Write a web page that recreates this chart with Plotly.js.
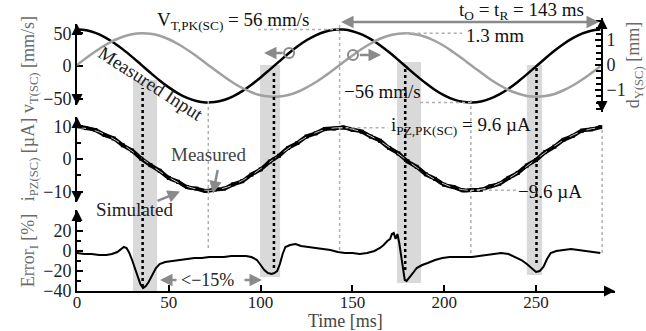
<!DOCTYPE html>
<html>
<head>
<meta charset="utf-8">
<script src="https://cdn.plot.ly/plotly-3.0.1.min.js"></script>
<style>html,body{margin:0;padding:0;background:#fff}#chart{width:646px;height:331px}</style>
</head>
<body>
<div id="chart"></div>
<script>
// ---- data ----
const timeMs = [0,5,10,15,20,25,30,35,40,45,50,55,60,65,70,75,80,85,90,95,100,105,110,115,120,125,130,135,140,145,150,155,160,165,170,175,180,185,190,195,200,205,210,215,220,225,230,235,240,245,250,255,260,265,270,275,280,285];
const velocityMeasured = [56,54.7,50.7,44.3,35.7,25.5,14.0,1.8,-10.4,-22.1,-32.8,-41.9,-49.0,-53.7,-55.9,-55.3,-52.1,-46.4,-38.5,-28.7,-17.5,-5.5,6.7,18.7,29.8,39.4,47.1,52.6,55.5,55.8,53.4,48.4,41.1,31.8,21.0,9.2,-3.1,-15.2,-26.6,-36.7,-45.0,-51.2,-54.9,-56.0,-54.4,-50.1,-43.5,-34.8,-24.4,-12.8,-0.6,11.6,23.3,33.8,42.7,49.6,54.1,55.9];
const displacement = [0,0.28,0.54,0.78,0.98,1.13,1.23,1.27,1.25,1.17,1.03,0.84,0.61,0.36,0.08,-0.19,-0.46,-0.71,-0.92,-1.09,-1.21,-1.26,-1.26,-1.20,-1.08,-0.90,-0.69,-0.44,-0.17,0.11,0.38,0.64,0.86,1.05,1.18,1.25,1.27,1.22,1.12,0.96,0.76,0.51,0.25,-0.03,-0.30,-0.57,-0.80,-1.00,-1.14,-1.24,-1.27,-1.24,-1.16,-1.01,-0.82,-0.59,-0.33,-0.06];
const currentMeasured = [10.1,9.5,8.9,7.4,6.3,4.2,2.6,0.1,-1.9,-3.6,-5.8,-7.0,-8.6,-9.1,-9.8,-9.4,-9.1,-7.8,-6.8,-4.8,-3.2,-0.8,1.0,3.4,4.9,6.9,7.9,9.2,9.4,9.7,9.0,8.4,6.9,5.6,3.4,1.7,-0.7,-2.4,-4.7,-6.1,-7.9,-8.6,-9.6,-9.5,-9.4,-8.4,-7.6,-5.8,-4.3,-2.0,-0.3,2.1,3.8,5.9,7.1,8.7,9.1,9.8];
const currentSimulated = [9.6,9.37,8.69,7.59,6.13,4.37,2.40,0.32,-1.78,-3.80,-5.63,-7.19,-8.40,-9.21,-9.58,-9.49,-8.94,-7.96,-6.60,-4.92,-3.01,-0.95,1.16,3.21,5.10,6.75,8.08,9.01,9.52,9.56,9.15,8.30,7.04,5.45,3.60,1.57,-0.53,-2.60,-4.55,-6.29,-7.71,-8.78,-9.41,-9.60,-9.32,-8.60,-7.46,-5.96,-4.18,-2.20,-0.11,1.99,3.99,5.79,7.32,8.50,9.27,9.59];
const errorTime = [0,4,8,12,16,19,22,24,25.5,27,28.5,30,31.5,33,34.5,36,37.5,39,41,43,45,48,52,56,60,64,68,72,76,80,84,88,92,95,98,100,102,104,106,107.5,109,110.5,112,113.5,116,119,122,126,130,134,138,142,146,150,154,158,162,165,167,169,170.5,171.5,172.5,173.5,174.5,175.5,176.5,177.5,178.5,179.5,181,183,185,188,191,195,199,203,207,211,215,219,223,227,231,235,239,242,245,248,250,252,254,256,258,261,265,269,273,277,281,285];
const errorPct = [-2,-3,-3,-4,-4,-3,-1,2,4,3,-2,-9,-17,-26,-33,-37,-35,-31,-24,-17,-13,-11,-10,-9,-8,-7,-7,-6,-6,-6,-5,-5,-5,-6,-9,-14,-19,-22,-23,-22,-20,-13,-3,4,6,7,5,4,3,2,1,-1,-2,-2,-3,-2,0,3,6,10,12,17,18,12,17,8,-5,-20,-29,-30,-26,-22,-17,-14,-12,-9,-7,-6,-6,-6,-6,-5,-4,-3,-2,-3,-6,-9,-13,-18,-21,-20,-16,-8,-2,0,1,2,1,0,-1,-2];
const xTicks = [0,50,100,150,200,250];

// ---- layout helpers (pixel -> axis/paper) ----
const L=77, T=10, PW=538, PH=281, XMAX=293;
const tx = px => (px-L)*XMAX/PW;
const fy = py => (T+PH-py)/PH;
const FONT = 'Liberation Serif';

const traces = [
  {x: timeMs, y: displacement, xaxis:'x', yaxis:'y2', mode:'lines', line:{color:'#a0a0a0', width:2.5, shape:'spline'}, hoverinfo:'skip'},
  {x: timeMs, y: velocityMeasured, xaxis:'x', yaxis:'y', mode:'lines', line:{color:'#000', width:2.5, shape:'spline'}, hoverinfo:'skip'},
  {x: timeMs, y: currentMeasured, xaxis:'x', yaxis:'y3', mode:'lines+markers', line:{color:'#000', width:4, shape:'spline'}, marker:{color:'#000', size:4, symbol:'square'}, hoverinfo:'skip'},
  {x: timeMs, y: currentSimulated, xaxis:'x', yaxis:'y3', mode:'lines', line:{color:'#c4c4c4', width:1, dash:'dash', shape:'spline'}, hoverinfo:'skip'},
  {x: errorTime, y: errorPct, xaxis:'x', yaxis:'y4', mode:'lines', line:{color:'#000', width:2}, hoverinfo:'skip'}
];

const tickFont = {family:FONT, size:18, color:'#222'};
const titleFont = {family:FONT, size:18, color:'#6a6a6a'};
const yBase = {showline:true, linecolor:'#000', linewidth:2, ticks:'inside', ticklen:6, tickwidth:2, tickcolor:'#000', showgrid:false, zeroline:false, tickfont:tickFont, anchor:'x', fixedrange:true};

const layout = {
  width:646, height:331,
  margin:{l:L, r:646-L-PW, t:T, b:331-T-PH},
  paper_bgcolor:'#fff', plot_bgcolor:'rgba(0,0,0,0)',
  showlegend:false,
  font:{family:FONT},
  xaxis:{domain:[0,1], range:[0,XMAX], anchor:'y4', showline:true, linecolor:'#000', linewidth:2, ticks:'inside', ticklen:6, tickwidth:2, tickcolor:'#000', tickvals:xTicks, ticklabelposition:'outside', ticklabelstandoff:-5, showgrid:false, zeroline:false, tickfont:{family:FONT, size:17, color:'#222'}, fixedrange:true},
  yaxis: Object.assign({}, yBase, {domain:[fy(105), fy(24)], range:[-59.8,64.4], tickvals:[-50,0,50], title:{text:'v<sub>T(SC)</sub> [mm/s]', font:titleFont, standoff:4}}),
  yaxis2: Object.assign({}, yBase, {domain:[fy(112), fy(18)], range:[-1.88,1.88], anchor:'free', position:tx(602)/XMAX, side:'right', tickvals:[-1,0,1], minor:{dtick:0.25, ticks:'inside', ticklen:5, tickwidth:2, tickcolor:'#000'}, title:{text:'d<sub>Y(SC)</sub> [mm]', font:titleFont, standoff:2}}),
  yaxis3: Object.assign({}, yBase, {domain:[fy(202), fy(117)], range:[-13.2,12.9], tickvals:[-10,0,10], minor:{dtick:5, ticks:'inside', ticklen:4, tickwidth:2, tickcolor:'#000'}, title:{text:'i<sub>PZ(SC)</sub> [µA]', font:titleFont, standoff:4}}),
  yaxis4: Object.assign({}, yBase, {domain:[0, fy(210)], range:[-40,41], tickvals:[-40,-20,0,20], minor:{dtick:10, ticks:'inside', ticklen:4, tickwidth:2, tickcolor:'#000'}, title:{text:'Error<sub>I</sub> [%]', font:titleFont, standoff:4}}),
  shapes:[],
  annotations:[]
};

// shaded bands
[[30.5,43.6,292,80],[99.7,110.6,277,65],[174.3,187.4,283,62],[245,253.3,275,65]].forEach(b=>{
  layout.shapes.push({type:'rect', layer:'below', xref:'x', yref:'paper', x0:b[0], x1:b[1], y0:Math.max(0,fy(b[2])), y1:fy(b[3]), fillcolor:'#d9d9d9', line:{width:0}});
});
// black dotted verticals
[[35.75,88,287],[107.25,70,268],[178.75,67,270],[250.25,68,263]].forEach(v=>{
  layout.shapes.push({type:'line', xref:'x', yref:'paper', x0:v[0], x1:v[0], y0:fy(v[2]), y1:fy(v[1]), line:{color:'#000', width:2.5, dash:'dot'}});
});
// gray dotted verticals
[[71.5,100,248],[143,22,250],[214.5,100,253],[286,128,253]].forEach(v=>{
  layout.shapes.push({type:'line', xref:'x', yref:'paper', x0:v[0], x1:v[0], y0:fy(v[2]), y1:fy(v[1]), line:{color:'#b0b0b0', width:1.5, dash:'dot'}});
});
// gray dotted horizontals
const hd = (yref,y,x0,x1)=>layout.shapes.push({type:'line', xref:'x', yref:yref, x0:x0, x1:x1, y0:y, y1:y, line:{color:'#b0b0b0', width:1.5, dash:'dot'}});
hd('y',56,tx(258),143);
hd('y2',1.27,179,tx(462));
hd('y',-56,tx(420),214.5);
hd('y3',9.6,143,tx(388));
hd('y3',-9.6,214.5,tx(516));
// circles
layout.shapes.push({type:'circle', xref:'x', yref:'y', xsizemode:'pixel', ysizemode:'pixel', xanchor:115.5, yanchor:20, x0:-5, x1:5, y0:-5, y1:5, line:{color:'#8a8a8a', width:2}});
layout.shapes.push({type:'circle', xref:'x', yref:'y2', xsizemode:'pixel', ysizemode:'pixel', xanchor:150.3, yanchor:0.40, x0:-5, x1:5, y0:-5, y1:5, line:{color:'#8a8a8a', width:2}});

// axis arrowheads
const ah = (xref,x,yref,y,ax,ay)=>layout.annotations.push({xref:xref, yref:yref, x:x, y:y, ax:ax, ay:ay, text:'', showarrow:true, arrowhead:2, arrowsize:1.1, arrowwidth:2, arrowcolor:'#000', standoff:0});
ah('x',0,'y',64.4,0,10); ah('x',0,'y',-59.8,0,-10);
ah('x',0,'y3',12.9,0,10); ah('x',0,'y3',-13.2,0,-10);
ah('x',0,'y4',41,0,10);
ah('x',tx(602),'y2',1.88,0,10); ah('x',tx(602),'y2',-1.88,0,-10);
ah('paper',1,'y4',-40,-10,0);

// text labels
const txt = (text,px,py,opts)=>layout.annotations.push(Object.assign({xref:'x', yref:'paper', x:tx(px), y:fy(py), xanchor:'left', yanchor:'middle', text:text, showarrow:false, font:{family:FONT, size:19, color:'#111'}}, opts||{}));
txt('V<sub>T,PK(SC)</sub> = 56 mm/s',155,21);
txt('t<sub>O</sub> = t<sub>R</sub> = 143 ms',457,11);
txt('1.3 mm',464,35);
txt('−56 mm/s',342,92);
txt('i<sub>PZ,PK(SC)</sub> = 9.6 µA',389,126);
txt('−9.6 µA',516,191);
txt('Measured',169,154,{font:{family:FONT,size:19,color:'#444'}});
txt('Simulated',94,210,{font:{family:FONT,size:19,color:'#222'}});
txt('<−15%',179,280,{font:{family:FONT,size:18,color:'#222'}});
txt('Time [ms]',306,321,{font:{family:FONT,size:18,color:'#444'}});
layout.annotations.push({xref:'x', yref:'paper', x:tx(151), y:fy(83), xanchor:'center', yanchor:'middle', text:'Measured Input', textangle:33, showarrow:false, font:{family:FONT, size:19, color:'#222'}});

// gray pointer arrows
const ga = (xref,x,yref,y,axref,ax,ayref,ay,side)=>layout.annotations.push({xref:xref, yref:yref, x:x, y:y, axref:axref, ax:ax, ayref:ayref, ay:ay, text:'', showarrow:true, arrowhead:2, arrowsize:1, arrowwidth:2.5, arrowcolor:'#8a8a8a', arrowside:side||'end', standoff:0, startstandoff:0});
ga('x',tx(599),'paper',fy(22),'x',143,'paper',fy(22),'end+start');
ga('x',tx(264),'y',20,'x',112.8,'y',20);
ga('x',tx(381),'y2',0.40,'x',153.2,'y2',0.40);
ga('x',tx(213),'y3',-10.6,'pixel',5,'pixel',-25);
ga('x',tx(180),'y3',-10.0,'pixel',-24,'pixel',10);
ga('x',tx(160),'paper',fy(280),'x',tx(178),'paper',fy(280));
ga('x',tx(262),'paper',fy(280),'x',tx(243),'paper',fy(280));

Plotly.newPlot('chart', traces, layout, {staticPlot:true, displayModeBar:false});
</script>
</body>
</html>
